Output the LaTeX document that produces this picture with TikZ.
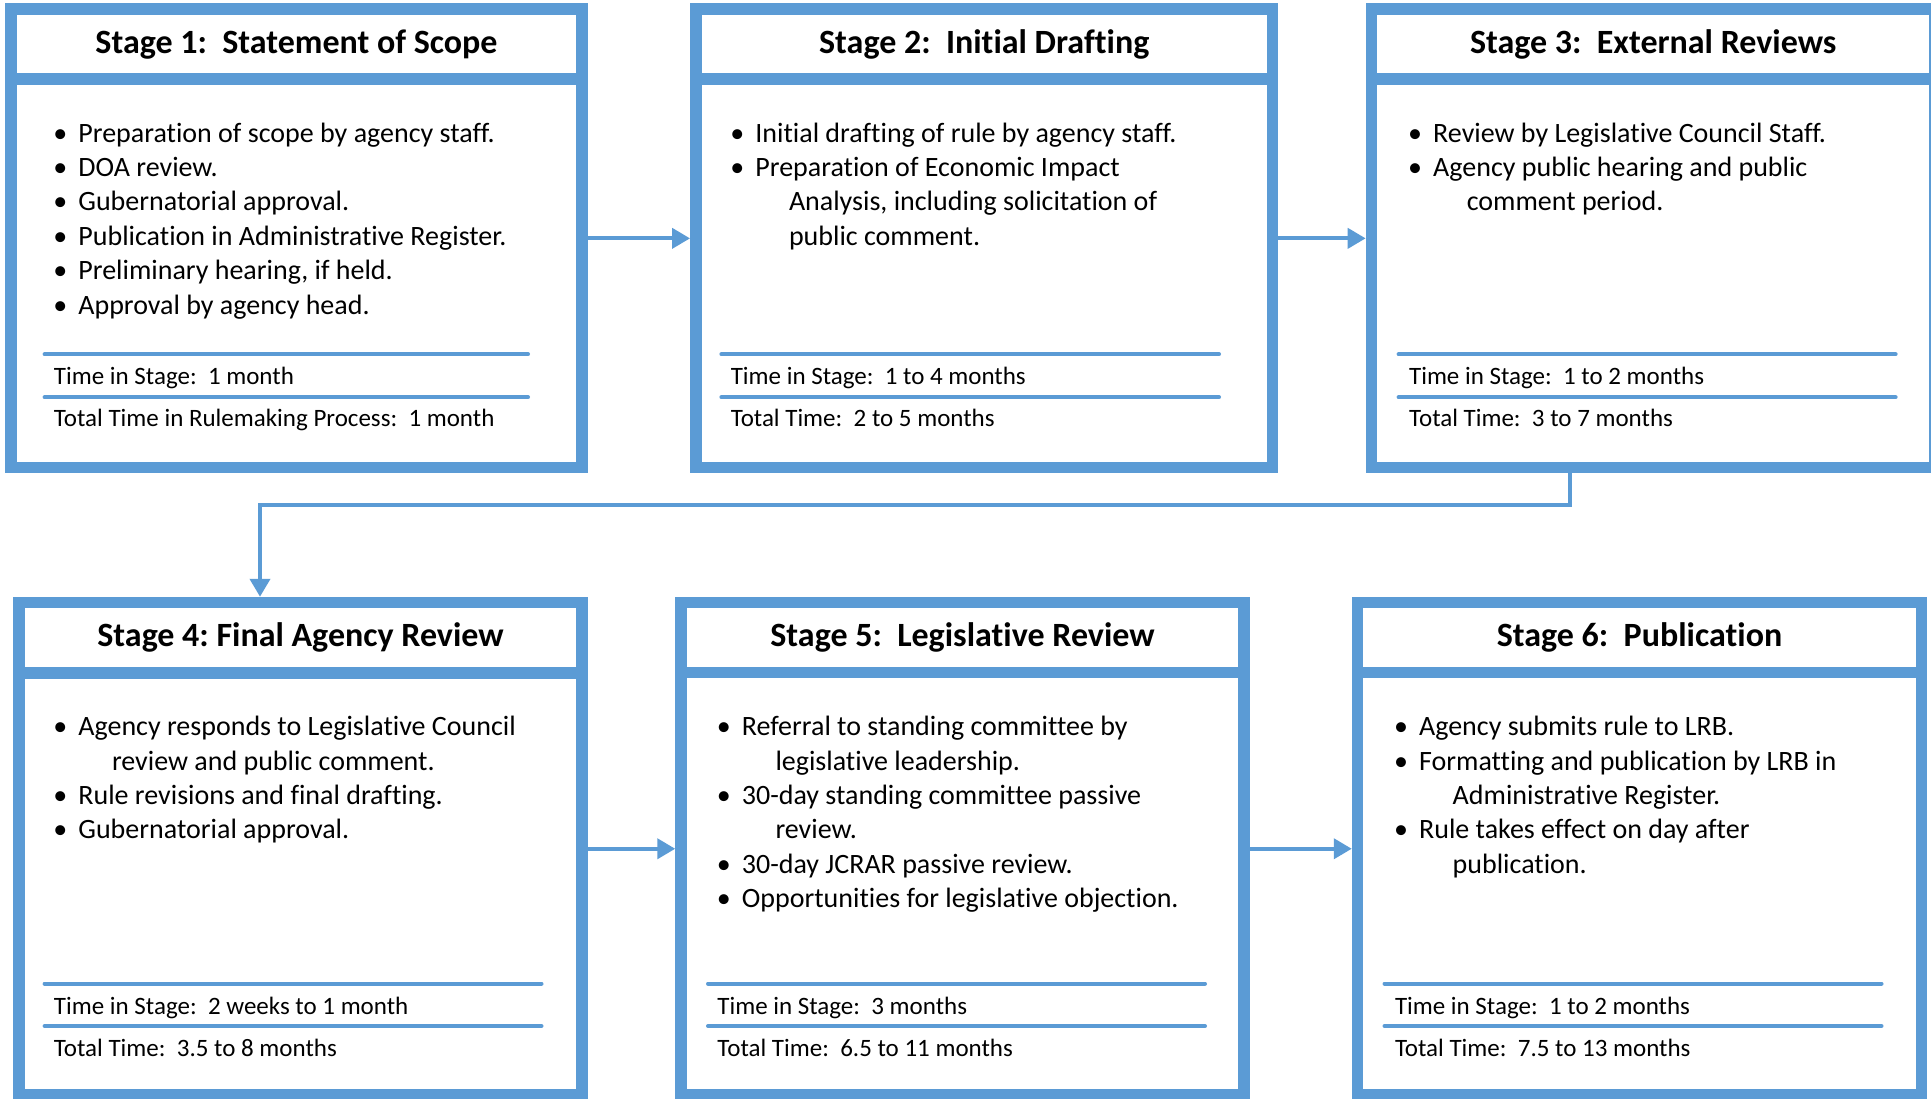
\documentclass[tikz,border=0pt]{standalone}
\usepackage{fontspec}
\setmainfont{Carlito}[Ligatures=NoCommon]
\usetikzlibrary{arrows.meta}
\definecolor{bl}{HTML}{5B9BD5}
\newcommand\bul{\llap{\makebox[6pt][c]{•}\hspace{6pt}}}
\newcommand\cnt{\hspace*{16.8pt}}
\newcommand\fl{\rule{0pt}{15pt}}
\begin{document}
\begin{tikzpicture}[x=0.5pt,y=-0.5pt,
  stagebox/.style={draw=bl, line width=5.75pt, fill=white, rectangle, inner sep=0pt},
  bord/.style={draw=bl, line width=5.75pt},
  sepline/.style={draw=bl, line width=2pt, line cap=round},
  arr/.style={draw=bl, line width=2pt, -{Triangle[length=9pt,width=10pt]}},
  title/.style={font=\bfseries\fontsize{17}{20}\selectfont, anchor=base, inner sep=0pt},
  body/.style={font=\fontsize{14}{17.2}\selectfont, align=left, anchor=north west, inner sep=0pt},
  small/.style={font=\fontsize{12.5}{15}\selectfont, anchor=base west, inner sep=0pt},
]
\useasboundingbox (0,0) rectangle (1931,1098);
\fill[white] (0,0) rectangle (1931,1098);
\clip (0,0) rectangle (1931,1098);

% stage boxes
\node[stagebox, minimum width=285.5pt, minimum height=229.35pt] (s1) at (296.5,238.35) {};
\node[stagebox, minimum width=288.4pt, minimum height=229.35pt] (s2) at (984.2,238.35) {};
\node[stagebox, minimum width=281.8pt, minimum height=229.35pt] (s3) at (1653.2,238.35) {};
\node[stagebox, minimum width=281.5pt, minimum height=246.25pt] (s4) at (300.5,848.75) {};
\node[stagebox, minimum width=281.5pt, minimum height=246.25pt] (s5) at (962.5,848.75) {};
\node[stagebox, minimum width=282pt, minimum height=246.25pt] (s6) at (1639.5,848.75) {};

% header dividers
\draw[bord] (11,79) -- (582,79);
\draw[bord] (695.8,79) -- (1272.6,79);
\draw[bord] (1371.4,79) -- (1935,79);
\draw[bord] (19,673) -- (582,673);
\draw[bord] (681,672.5) -- (1244,672.5);
\draw[bord] (1357.5,672.5) -- (1921.5,672.5);

% titles
\node[title] (h1) at (296.5,53.3) {Stage 1:~~Statement of Scope};
\node[title] (h2) at (984.2,53.3) {Stage 2:~~Initial Drafting};
\node[title] (h3) at (1653.2,53.3) {Stage 3:~~External Reviews};
\node[title] (h4) at (300.5,646.7) {Stage 4:~Final Agency Review};
\node[title] (h5) at (962.5,646.7) {Stage 5:~~Legislative Review};
\node[title] (h6) at (1639.5,646.7) {Stage 6:~~Publication};

% bullet lists
\node[body] (b1) at (78,111.7) {\fl\bul Preparation of scope by agency staff.\\
\bul DOA review.\\
\bul Gubernatorial approval.\\
\bul Publication in Administrative Register.\\
\bul Preliminary hearing, if held.\\
\bul Approval by agency head.};
\node[body] (b2) at (755,111.7) {\fl\bul Initial drafting of rule by agency staff.\\
\bul Preparation of Economic Impact\\
\cnt Analysis, including solicitation of\\
\cnt public comment.};
\node[body] (b3) at (1432.8,111.7) {\fl\bul Review by Legislative Council Staff.\\
\bul Agency public hearing and public\\
\cnt comment period.};
\node[body] (b4) at (78,705.3) {\fl\bul Agency responds to Legislative Council\\
\cnt review and public comment.\\
\bul Rule revisions and final drafting.\\
\bul Gubernatorial approval.};
\node[body] (b5) at (741.5,705.3) {\fl\bul Referral to standing committee by\\
\cnt legislative leadership.\\
\bul 30-day standing committee passive\\
\cnt review.\\
\bul 30-day JCRAR passive review.\\
\bul Opportunities for legislative objection.};
\node[body] (b6) at (1418.7,705.3) {\fl\bul Agency submits rule to LRB.\\
\bul Formatting and publication by LRB in\\
\cnt Administrative Register.\\
\bul Rule takes effect on day after\\
\cnt publication.};

% separators
\draw[sepline] (44.6,354.3) -- (528,354.3);
\draw[sepline] (44.6,397.3) -- (528,397.3);
\draw[sepline] (721.4,354.3) -- (1219,354.3);
\draw[sepline] (721.4,397.3) -- (1219,397.3);
\draw[sepline] (1398.6,354.3) -- (1895.6,354.3);
\draw[sepline] (1398.6,397.3) -- (1895.6,397.3);
\draw[sepline] (44.6,983.5) -- (541.5,983.5);
\draw[sepline] (44.6,1026) -- (541.5,1026);
\draw[sepline] (708,983.5) -- (1205,983.5);
\draw[sepline] (708,1026) -- (1205,1026);
\draw[sepline] (1384.5,983.5) -- (1881.5,983.5);
\draw[sepline] (1384.5,1026) -- (1881.5,1026);

% times
\node[small] (t1a) at (53.6,384.5) {Time in Stage:~~1 month};
\node[small] (t1b) at (53.6,426.5) {Total Time in Rulemaking Process:~~1 month};
\node[small] (t2a) at (730.4,384.5) {Time in Stage:~~1 to 4 months};
\node[small] (t2b) at (730.4,426.5) {Total Time:~~2 to 5 months};
\node[small] (t3a) at (1408.7,384.5) {Time in Stage:~~1 to 2 months};
\node[small] (t3b) at (1408.7,426.5) {Total Time:~~3 to 7 months};
\node[small] (t4a) at (53.6,1014.7) {Time in Stage:~~2 weeks to 1 month};
\node[small] (t4b) at (53.6,1056.3) {Total Time:~~3.5 to 8 months};
\node[small] (t5a) at (717,1014.7) {Time in Stage:~~3 months};
\node[small] (t5b) at (717,1056.3) {Total Time:~~6.5 to 11 months};
\node[small] (t6a) at (1394.6,1014.7) {Time in Stage:~~1 to 2 months};
\node[small] (t6b) at (1394.6,1056.3) {Total Time:~~7.5 to 13 months};

% connectors
\coordinate (j1) at (1570,505);
\coordinate (j2) at (260,505);
\draw[arr] (s1.east) -- (s2.west);
\draw[arr] (s2.east) -- (s3.west);
\draw[arr] (s3.south -| j1) -- (j1) -- (j2) -- (j2 |- s4.north);
\draw[arr] (s4.east) -- (s5.west);
\draw[arr] (s5.east) -- (s6.west);
\end{tikzpicture}
\end{document}
